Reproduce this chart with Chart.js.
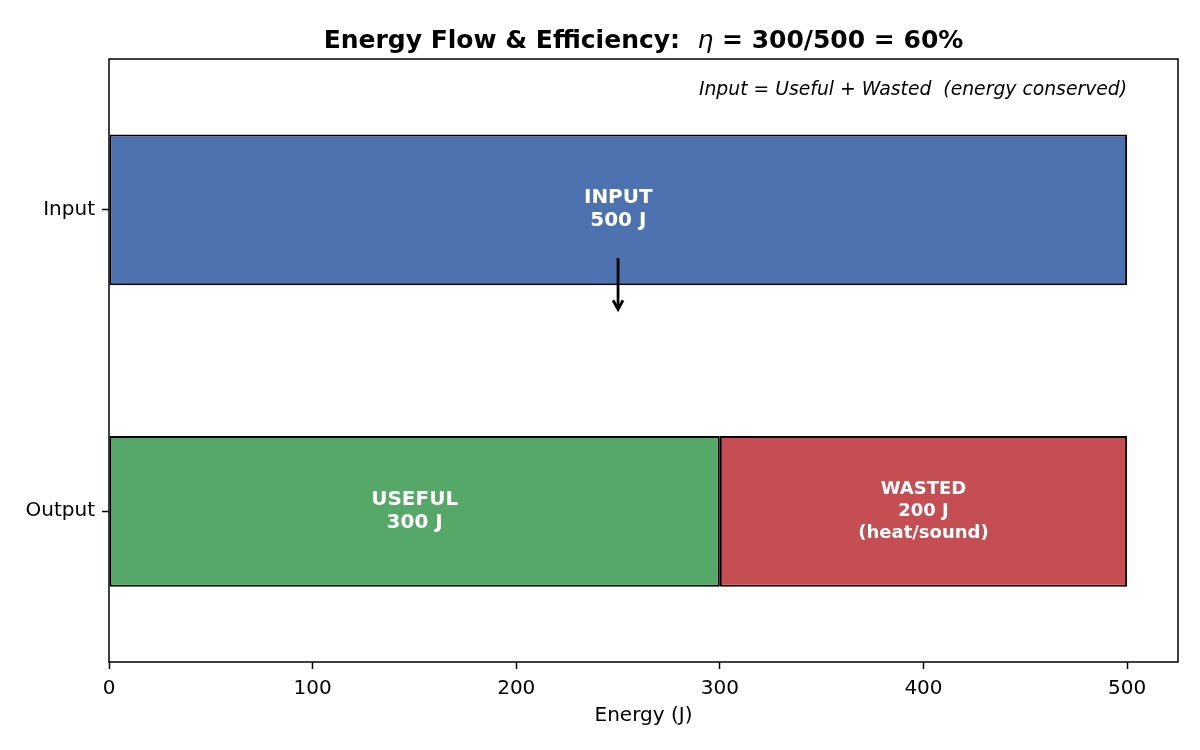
<!DOCTYPE html>
<html>
<head>
<meta charset="utf-8">
<script src="https://cdn.jsdelivr.net/npm/chart.js@4.4.1/dist/chart.umd.min.js"></script>
<style>
  html, body { margin: 0; padding: 0; background: #fff; }
  canvas { display: block; }
</style>
</head>
<body>
<canvas id="chart" width="1200" height="750"></canvas>
<script>
// data
var categories = ['Input', 'Output'];
var inputValues = [500, null];
var usefulValues = [null, 300];
var wastedValues = [null, 200];
var xTickValues = [0, 100, 200, 300, 400, 500];
var xMax = 525;

var inputLabel = ['INPUT', '500 J'];
var usefulLabel = ['USEFUL', '300 J'];
var wastedLabel = ['WASTED', '200 J', '(heat/sound)'];

var titleParts = ['Energy Flow & Efficiency:  ', '\u03b7', ' = 300/500 = 60%'];
var noteText = 'Input = Useful + Wasted  (energy conserved)';

// arrow from the input bar down towards the output bar
var arrowX = 250;
var arrowFrom = 0.16;
var arrowTo = 0.33;

var FONT = '"DejaVu Sans", sans-serif';
Chart.defaults.font.family = FONT;
Chart.defaults.color = '#000';

var extras = {
	id: 'extras',
	afterDatasetsDraw: function(chart) {
		var ctx = chart.ctx;
		var area = chart.chartArea;
		var xs = chart.scales.x;
		var ys = chart.scales.y;

		// bar labels
		var labels = [inputLabel, usefulLabel, wastedLabel];
		var sizes = [20, 20, 18];
		var gaps = [23, 23, 22];
		ctx.save();
		ctx.fillStyle = '#fff';
		ctx.textAlign = 'center';
		ctx.textBaseline = 'middle';
		labels.forEach(function(lines, i) {
			var meta = chart.getDatasetMeta(i);
			meta.data.forEach(function(bar, j) {
				if (chart.data.datasets[i].data[j] == null) return;
				var cx = (bar.x + bar.base) / 2;
				var cy = bar.y;
				ctx.font = 'bold ' + sizes[i] + 'px ' + FONT;
				var y0 = cy - (lines.length - 1) * gaps[i] / 2;
				lines.forEach(function(t, k) {
					ctx.fillText(t, cx, y0 + k * gaps[i]);
				});
			});
		});
		ctx.restore();

		// arrow
		var step = ys.getPixelForValue(1) - ys.getPixelForValue(0);
		var ax = xs.getPixelForValue(arrowX);
		var ay1 = ys.getPixelForValue(0) + arrowFrom * step;
		var ay2 = ys.getPixelForValue(0) + arrowTo * step;
		ctx.save();
		ctx.strokeStyle = '#000';
		ctx.lineWidth = 2.8;
		ctx.beginPath();
		ctx.moveTo(ax, ay1);
		ctx.lineTo(ax, ay2 - 1);
		ctx.stroke();
		ctx.beginPath();
		ctx.lineJoin = 'miter';
		ctx.moveTo(ax - 5, ay2 - 9);
		ctx.lineTo(ax, ay2);
		ctx.lineTo(ax + 5, ay2 - 9);
		ctx.stroke();
		ctx.restore();

		// note text
		ctx.save();
		ctx.font = 'italic 18.8px ' + FONT;
		ctx.textAlign = 'right';
		ctx.textBaseline = 'middle';
		ctx.fillStyle = '#000';
		ctx.fillText(noteText, xs.getPixelForValue(500), ys.getPixelForValue(0) - 0.398 * step);
		ctx.restore();

		// frame
		ctx.save();
		ctx.strokeStyle = '#000';
		ctx.lineWidth = 1.5;
		ctx.strokeRect(area.left, area.top, area.right - area.left, area.bottom - area.top);
		ctx.restore();

		// title
		ctx.save();
		var fonts = ['bold 25px ' + FONT, 'italic 25px ' + FONT, 'bold 25px ' + FONT];
		var total = 0;
		var widths = titleParts.map(function(t, i) {
			ctx.font = fonts[i];
			var w = ctx.measureText(t).width;
			total += w;
			return w;
		});
		var tx = (area.left + area.right) / 2 - total / 2;
		ctx.fillStyle = '#000';
		ctx.textAlign = 'left';
		ctx.textBaseline = 'alphabetic';
		titleParts.forEach(function(t, i) {
			ctx.font = fonts[i];
			ctx.fillText(t, tx, 48);
			tx += widths[i];
		});
		ctx.restore();
	}
};

new Chart(document.getElementById('chart'), {
	type: 'bar',
	data: {
		labels: categories,
		datasets: [{
			label: 'Input',
			data: inputValues,
			backgroundColor: '#4C72B0',
			borderColor: '#000',
			borderWidth: 2,
			borderSkipped: false
		}, {
			label: 'Useful',
			data: usefulValues,
			backgroundColor: '#55A868',
			borderColor: '#000',
			borderWidth: 2,
			borderSkipped: false
		}, {
			label: 'Wasted',
			data: wastedValues,
			backgroundColor: '#C44E52',
			borderColor: '#000',
			borderWidth: 2,
			borderSkipped: false
		}]
	},
	options: {
		indexAxis: 'y',
		responsive: false,
		animation: false,
		barPercentage: 0.5,
		categoryPercentage: 1,
		layout: {
			padding: { top: 59, right: 22, left: 0, bottom: 0 }
		},
		plugins: {
			legend: { display: false },
			title: { display: false },
			tooltip: { enabled: false }
		},
		scales: {
			x: {
				type: 'linear',
				stacked: true,
				min: 0,
				max: xMax,
				afterBuildTicks: function(scale) {
					scale.ticks = xTickValues.map(function(v) { return { value: v }; });
				},
				afterFit: function(scale) { scale.height = 88; },
				border: { display: false },
				grid: {
					drawOnChartArea: false,
					drawTicks: true,
					tickLength: 7,
					tickColor: '#000',
					tickWidth: 1.5
				},
				ticks: {
					font: { size: 20 },
					color: '#000',
					padding: 8,
					maxRotation: 0
				},
				title: {
					display: true,
					text: 'Energy (J)',
					font: { size: 20 },
					color: '#000',
					padding: { top: 0, bottom: 22 }
				}
			},
			y: {
				stacked: true,
				afterFit: function(scale) { scale.width = 109; },
				border: { display: false },
				grid: {
					offset: false,
					drawOnChartArea: false,
					drawTicks: true,
					tickLength: 7,
					tickColor: '#000',
					tickWidth: 1.5
				},
				ticks: {
					font: { size: 20 },
					color: '#000',
					padding: 7
				}
			}
		}
	},
	plugins: [extras]
});
</script>
</body>
</html>
